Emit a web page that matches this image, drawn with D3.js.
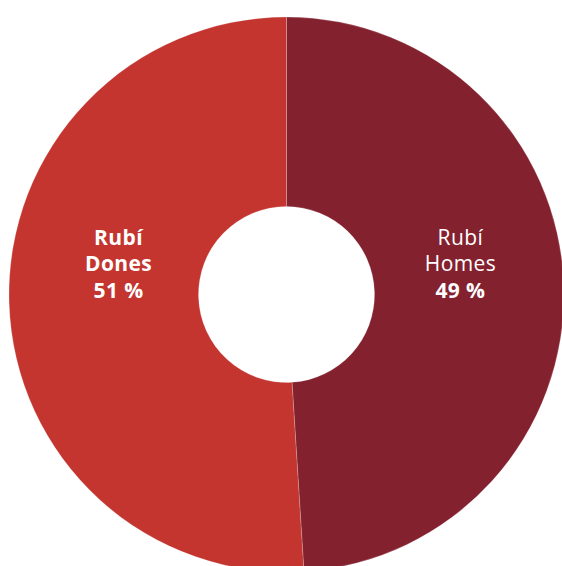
<!DOCTYPE html>
<html>
<head>
<meta charset="utf-8">
<script src="https://cdn.jsdelivr.net/npm/d3@7"></script>
<style>
  html, body { margin: 0; padding: 0; background: #ffffff; }
  svg { display: block; }
</style>
</head>
<body>
<svg id="chart" width="562" height="566"></svg>
<script>
// Data
const categories = ["Homes", "Dones"];
const values = [49, 51];
const labelLine1 = ["Rubí", "Rubí"];
const labelLine2 = ["Homes", "Dones"];
const percentLabels = ["49 %", "51 %"];
const colors = ["#84212F", "#C3352E"];
const boldNames = [false, true];

const svg = d3.select("#chart");
const cx = 286.5, cy = 294.5;
const outerR = 277.5, innerR = 88;

const g = svg.append("g").attr("transform", `translate(${cx},${cy})`);

const data = categories.map((c, i) => ({ cat: c, value: values[i], i }));
const pie = d3.pie().sort(null).value(d => d.value);
const arcs = pie(data);

const arc = d3.arc().innerRadius(innerR).outerRadius(outerR);
const labelArc = d3.arc().innerRadius(172).outerRadius(172);

g.selectAll("path.slice")
  .data(arcs)
  .join("path")
  .attr("class", "slice")
  .attr("d", arc)
  .attr("fill", d => colors[d.data.i])
  .attr("stroke", "rgba(255,255,255,0.25)")
  .attr("stroke-width", 0.8);

const fontFamily = "'Open Sans', 'Noto Sans', sans-serif";
const lh = 26.5;

const labels = g.selectAll("text.lbl")
  .data(arcs)
  .join("text")
  .attr("class", "lbl")
  .attr("text-anchor", "middle")
  .attr("fill", "#ffffff")
  .attr("font-family", fontFamily)
  .attr("font-size", 21)
  .attr("letter-spacing", 0.4)
  .attr("transform", d => {
    const [x] = labelArc.centroid(d);
    return `translate(${x + (d.data.i === 1 ? 4 : 2)},${-23.5})`;
  });

labels.append("tspan")
  .attr("x", 0).attr("y", -lh)
  .attr("font-weight", d => boldNames[d.data.i] ? 700 : 400)
  .text(d => labelLine1[d.data.i]);
labels.append("tspan")
  .attr("x", 0).attr("y", 0)
  .attr("font-weight", d => boldNames[d.data.i] ? 700 : 400)
  .text(d => labelLine2[d.data.i]);
labels.append("tspan")
  .attr("x", 0).attr("y", lh)
  .attr("font-weight", 700)
  .text(d => percentLabels[d.data.i]);
</script>
</body>
</html>
